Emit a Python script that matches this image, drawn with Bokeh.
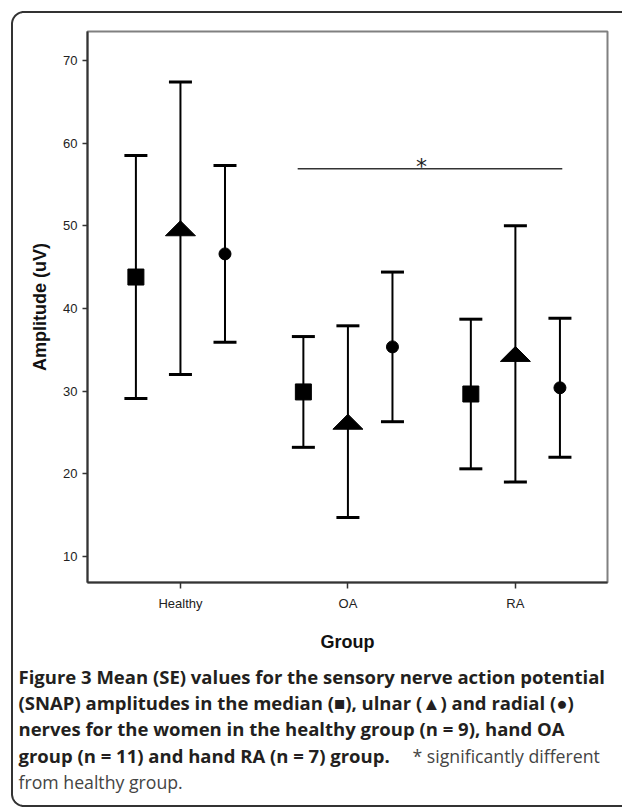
import math
from bokeh.plotting import figure
from bokeh.models import ColumnDataSource, Whisker, TeeHead, FixedTicker, Range1d
from bokeh.core.properties import value
from bokeh.embed import file_html
from bokeh.resources import INLINE

# ---- data ----
groups = ["Healthy", "OA", "RA"]
group_pos = [1, 2, 3]
median_mean = [43.8, 29.9, 29.65]
median_se = [14.7, 6.7, 9.05]
ulnar_mean = [49.7, 26.3, 34.5]
ulnar_se = [17.7, 11.6, 15.5]
radial_mean = [46.6, 35.35, 30.4]
radial_se = [10.7, 9.05, 8.4]
y_ticks = [10, 20, 30, 40, 50, 60, 70]
sig_x = [1.70, 3.28]
sig_y = [56.9]
sig_mark = "*"

caption_bold = [
    "Figure 3 Mean (SE) values for the sensory nerve action potential",
    "(SNAP) amplitudes in the median (\u25a0), ulnar (\u25b2) and radial (\u25cf)",
    "nerves for the women in the healthy group (n = 9), hand OA",
    "group (n = 11) and hand RA (n = 7) group.",
]
caption_normal = ["* significantly different", "from healthy group."]

# ---- chart figure (canvas at the page origin) ----
W, H = 622, 808
p = figure(width=W, height=H, output_backend="svg", toolbar_location=None,
           x_range=Range1d(0.445, 3.55), y_range=Range1d(6.85, 73.5),
           min_border_left=87, min_border_top=31, min_border_right=15, min_border_bottom=226)
p.background_fill_color = "white"
p.border_fill_color = "white"
p.outline_line_color = "#808080"
p.outline_line_width = 2
p.xgrid.visible = False
p.ygrid.visible = False

OFF = 0.266
TRI_HW = 0.0896
TRI_HH = 0.907


def series(means, ses, off):
    xs = [g + off for g in group_pos]
    return ColumnDataSource(dict(
        x=xs, y=means,
        lower=[m - s for m, s in zip(means, ses)],
        upper=[m + s for m, s in zip(means, ses)],
    ))


for means, ses, off in [(median_mean, median_se, -OFF), (ulnar_mean, ulnar_se, 0.0),
                        (radial_mean, radial_se, OFF)]:
    src = series(means, ses, off)
    p.add_layout(Whisker(source=src, base="x", lower="lower", upper="upper",
                         line_width=2, line_color="black",
                         upper_head=TeeHead(size=23, line_width=3, line_color="black"),
                         lower_head=TeeHead(size=23, line_width=3, line_color="black")))

src_m = series(median_mean, median_se, -OFF)
p.scatter("x", "y", source=src_m, marker="square", size=16, color="black")

src_r = series(radial_mean, radial_se, OFF)
p.scatter("x", "y", source=src_r, marker="circle", size=12, color="black")

tri_xs = [[g - TRI_HW, g + TRI_HW, g] for g in group_pos]
tri_ys = [[m - TRI_HH, m - TRI_HH, m + TRI_HH] for m in ulnar_mean]
p.patches(tri_xs, tri_ys, color="black")

# significance bar
p.segment(x0=[sig_x[0]], y0=sig_y, x1=[sig_x[1]], y1=sig_y, line_color="#333", line_width=1.5)
p.text(x=[(sig_x[0] + sig_x[1]) / 2 - 0.05], y=[sig_y[0] + 0.31], text=[sig_mark],
       text_align="center", text_baseline="alphabetic", text_font=value("DejaVu Sans"),
       text_font_size="22px", text_color="#222")

# axes
p.xaxis.ticker = FixedTicker(ticks=group_pos)
p.xaxis.major_label_overrides = {g: n for g, n in zip(group_pos, groups)}
p.yaxis.ticker = FixedTicker(ticks=y_ticks)
for ax in (p.xaxis[0], p.yaxis[0]):
    ax.axis_line_color = "#333"
    ax.axis_line_width = 2
    ax.major_tick_line_color = "#333"
    ax.major_tick_line_width = 1.5
    ax.major_tick_in = 0
    ax.minor_tick_line_color = None
    ax.major_label_text_font = "Liberation Sans"
    ax.major_label_text_font_size = "13px"
    ax.major_label_text_color = "#222"
    ax.axis_label_text_font = "Liberation Sans"
    ax.axis_label_text_font_size = "18px"
    ax.axis_label_text_font_style = "bold"
    ax.axis_label_text_color = "#111"

p.xaxis.axis_label = "Group"
p.xaxis.major_tick_out = 6
p.xaxis.major_label_standoff = 7
p.xaxis.axis_label_standoff = 18
p.yaxis.axis_label = "Amplitude (uV)"
p.yaxis.major_tick_out = 5
p.yaxis.major_label_standoff = 5
p.yaxis.axis_label_standoff = 10

# ---- transparent overlay figure: outer rounded frame + caption (page-pixel coords) ----
ov = figure(width=W, height=H, output_backend="svg", toolbar_location=None,
            x_range=Range1d(0, W), y_range=Range1d(H, 0),
            x_axis_type=None, y_axis_type=None, min_border=0)
ov.background_fill_color = None
ov.border_fill_color = None
ov.outline_line_color = None
ov.styles = {"position": "absolute", "left": "0px", "top": "0px"}

BX, BT, BB, R = 11.5, 11.5, 805.5, 12
fx, fy = [W, BX + R], [BT, BT]
for i in range(0, 13):
    t = math.pi / 2 * i / 12
    fx.append(BX + R - R * math.sin(t))
    fy.append(BT + R - R * math.cos(t))
for i in range(0, 13):
    t = math.pi / 2 * i / 12
    fx.append(BX + R - R * math.cos(t))
    fy.append(BB - R + R * math.sin(t))
fx.append(W)
fy.append(BB)
ov.line(fx, fy, line_color="#333", line_width=2)

line_y = [676, 702, 728, 755, 781]
ov.text(x=[18] * 4, y=line_y[:4], text=caption_bold, text_font=value("Open Sans"),
        text_font_style="bold", text_font_size="18.5px", text_color="#231f20",
        text_baseline="middle", text_align="left")
ov.text(x=[412, 18], y=[line_y[3], line_y[4]], text=caption_normal, text_font=value("Open Sans"),
        text_font_size="17.7px", text_color="#444", text_baseline="middle", text_align="left")

open("out.html", "w").write(file_html([p, ov], INLINE))
